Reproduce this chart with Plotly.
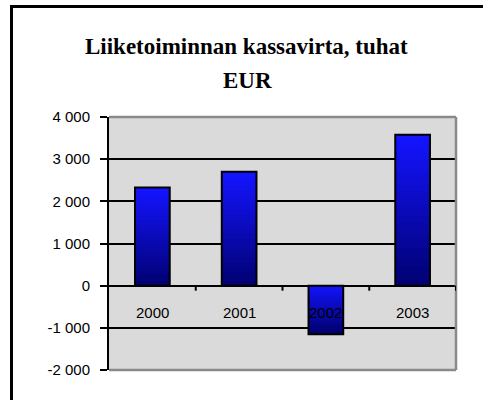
import plotly.graph_objects as go

# ---- data ----
years = ["2000", "2001", "2002", "2003"]
values = [2330, 2700, -1150, 3580]
tick_vals = [-2000, -1000, 0, 1000, 2000, 3000, 4000]
tick_text = ["-2 000", "-1 000", "0", "1 000", "2 000", "3 000", "4 000"]
title_line1 = "Liiketoiminnan kassavirta, tuhat"
title_line2 = "EUR"

W, H = 483, 400
L, R, T, B = 109, 456, 117, 370  # plot area in pixels
pw, ph = R - L, B - T


def px(x):
    return (x - L) / pw


def py(y):
    return (B - y) / ph


fig = go.Figure()

# gradient bars: nested overlapping bars from full height down to small
N = 24
top_rgb = (20, 20, 255)
bot_rgb = (0, 0, 110)
bar_w = 0.4
for k in range(N):
    frac = (N - k) / N
    cols = []
    for v in values:
        f = (1 - frac) if v >= 0 else frac
        f = min(max(f, 0), 1)
        c = tuple(int(round(t + (b - t) * f)) for t, b in zip(top_rgb, bot_rgb))
        cols.append("rgb(%d,%d,%d)" % c)
    fig.add_trace(go.Bar(
        x=years, y=[v * frac for v in values],
        width=bar_w, marker=dict(color=cols, line=dict(width=0)),
        showlegend=False, hoverinfo="skip"))

# outline
fig.add_trace(go.Bar(
    x=years, y=values, width=bar_w,
    marker=dict(color="rgba(0,0,0,0)", line=dict(color="black", width=2)),
    showlegend=False))

fig.update_layout(
    width=W, height=H, autosize=False,
    margin=dict(l=L, r=W - R, t=T, b=H - B),
    paper_bgcolor="white", plot_bgcolor="#dadada",
    barmode="overlay",
    xaxis=dict(type="category", showticklabels=False, showgrid=False, zeroline=False,
               showline=False, ticks="", range=[-0.5, 3.5], fixedrange=True),
    yaxis=dict(range=[-2000, 4000], tickvals=tick_vals, ticktext=tick_text,
               showgrid=True, gridcolor="black", gridwidth=1.5,
               zeroline=True, zerolinecolor="black", zerolinewidth=2,
               showline=True, linecolor="black", linewidth=2,
               ticks="outside", ticklen=7, tickwidth=2, tickcolor="black",
               tickfont=dict(family="Liberation Sans, Arial", size=15, color="black"),
               ticklabelstandoff=7, fixedrange=True),
    font=dict(family="Liberation Sans, Arial", color="black"),
)

shapes = []
for (x0, y0, x1, y1) in [(0, 1, 1, 1), (1, 0, 1, 1), (0, 0, 1, 0)]:
    shapes.append(dict(type="line", xref="paper", yref="paper", x0=x0, y0=y0, x1=x1, y1=y1,
                       line=dict(color="#8a8a8a", width=2.5), layer="above"))
for i in range(len(years)):
    shapes.append(dict(type="line", xref="x", yref="y", x0=i + 0.5, x1=i + 0.5,
                       ysizemode="pixel", yanchor=0, y0=0, y1=-5,
                       line=dict(color="black", width=2), layer="above"))
shapes.append(dict(type="rect", xref="paper", yref="paper",
                   x0=px(11.5), x1=px(495), y0=py(410), y1=py(6.5),
                   line=dict(color="black", width=3), fillcolor="rgba(0,0,0,0)", layer="above"))
fig.update_layout(shapes=shapes)

ann = []
for i, yr in enumerate(years):
    ann.append(dict(x=i, y=0, xref="x", yref="y", text=yr, showarrow=False,
                    yanchor="middle", yshift=-27,
                    font=dict(family="Liberation Sans, Arial", size=15, color="black")))
ann.append(dict(x=px(246), y=py(46), xref="paper", yref="paper", text="<b>%s</b>" % title_line1,
                showarrow=False, xanchor="center", yanchor="middle",
                font=dict(family="Liberation Serif, Times New Roman", size=23, color="black")))
ann.append(dict(x=px(247), y=py(81), xref="paper", yref="paper", text="<b>%s</b>" % title_line2,
                showarrow=False, xanchor="center", yanchor="middle",
                font=dict(family="Liberation Serif, Times New Roman", size=23, color="black")))
fig.update_layout(annotations=ann)

fig.write_html("out.html", config={"displayModeBar": False},
               post_script="document.body.style.margin='0px';")
